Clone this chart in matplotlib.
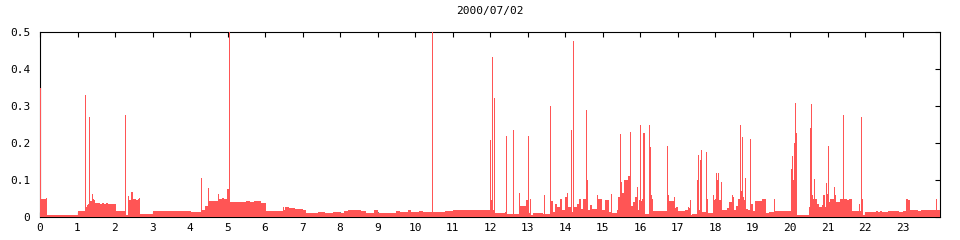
import matplotlib
matplotlib.use("Agg")
import matplotlib.pyplot as plt
import numpy as np

title = "2000/07/02"
x_ticks = list(range(24))
y_ticks = [0, 0.1, 0.2, 0.3, 0.4, 0.5]
y_tick_labels = ["0", "0.1", "0.2", "0.3", "0.4", "0.5"]

# baseline level: value holds from each hour mark until the next
base_hours = [
    0.00, 0.17, 0.18, 1.00, 1.21, 1.25, 1.29, 1.33, 1.38, 1.42, 1.44, 1.46, 1.60, 1.65, 1.70, 1.75, 1.80,
    2.03, 2.28, 2.35, 2.38, 2.42, 2.47, 2.52, 2.55, 2.60, 2.63, 2.67, 3.00, 4.03, 4.30, 4.33, 4.41, 4.47,
    4.50, 4.74, 4.77, 4.85, 4.90, 4.95, 4.98, 5.05, 5.50, 5.60, 5.70, 5.90, 6.03, 6.47, 6.50, 6.53, 6.65,
    6.80, 7.00, 7.10, 7.40, 7.60, 7.80, 8.00, 8.10, 8.20, 8.30, 8.40, 8.55, 8.70, 8.90, 9.00, 9.30, 9.50,
    9.60, 9.80, 9.90, 10.10, 10.20, 10.47, 10.80, 11.02, 12.02, 12.06, 12.13, 12.40, 12.45, 12.77, 12.80,
    12.97, 13.03, 13.07, 13.09, 13.15, 13.30, 13.40, 13.45, 13.47, 13.62, 13.67, 13.73, 13.78, 13.87,
    13.91, 14.00, 14.04, 14.09, 14.18, 14.23, 14.31, 14.36, 14.38, 14.43, 14.49, 14.58, 14.62, 14.67,
    14.71, 14.84, 14.89, 14.98, 15.07, 15.17, 15.22, 15.24, 15.38, 15.42, 15.49, 15.51, 15.56, 15.69,
    15.75, 15.82, 15.87, 15.91, 15.95, 15.98, 16.02, 16.05, 16.07, 16.13, 16.26, 16.29, 16.31, 16.34,
    16.73, 16.76, 16.90, 16.93, 16.96, 17.00, 17.20, 17.27, 17.30, 17.33, 17.36, 17.38, 17.52, 17.54,
    17.57, 17.59, 17.62, 17.65, 17.78, 17.80, 17.94, 17.97, 18.00, 18.03, 18.06, 18.08, 18.11, 18.17,
    18.19, 18.33, 18.37, 18.45, 18.48, 18.51, 18.56, 18.62, 18.69, 18.73, 18.76, 18.80, 18.83, 18.89,
    18.95, 19.02, 19.07, 19.25, 19.35, 19.37, 19.45, 19.58, 19.60, 20.02, 20.05, 20.07, 20.10, 20.15,
    20.18, 20.50, 20.53, 20.56, 20.59, 20.62, 20.65, 20.67, 20.71, 20.76, 20.85, 20.89, 20.92, 20.95,
    20.98, 21.00, 21.03, 21.06, 21.16, 21.19, 21.22, 21.33, 21.43, 21.45, 21.51, 21.56, 21.60, 21.64,
    21.84, 21.87, 21.92, 21.95, 22.00, 22.30, 22.35, 22.40, 22.45, 22.60, 22.90, 23.00, 23.10, 23.15,
    23.20, 23.40, 23.50, 23.75, 23.77, 23.90, 23.93, 24.00,
]
base_values = [
    0.050, 0.052, 0.006, 0.015, 0.028, 0.032, 0.035, 0.042, 0.063, 0.050, 0.045, 0.038, 0.036, 0.038, 0.036, 0.038, 0.036,
    0.017, 0.006, 0.057, 0.047, 0.068, 0.048, 0.050, 0.047, 0.050, 0.052, 0.008, 0.016, 0.0135, 0.050, 0.020, 0.030, 0.035,
    0.043, 0.063, 0.050, 0.052, 0.048, 0.050, 0.075, 0.040, 0.042, 0.040, 0.042, 0.037, 0.016, 0.028, 0.020, 0.026, 0.024,
    0.022, 0.018, 0.012, 0.013, 0.012, 0.013, 0.012, 0.015, 0.018, 0.020, 0.019, 0.015, 0.012, 0.018, 0.011, 0.012, 0.016,
    0.013, 0.018, 0.014, 0.016, 0.013, 0.014, 0.016, 0.020, 0.045, 0.020, 0.012, 0.013, 0.008, 0.065, 0.030,
    0.045, 0.012, 0.050, 0.006, 0.010, 0.012, 0.008, 0.060, 0.008, 0.044, 0.013, 0.035, 0.027, 0.050,
    0.018, 0.055, 0.065, 0.027, 0.013, 0.026, 0.035, 0.018, 0.050, 0.022, 0.050, 0.100, 0.018, 0.032,
    0.022, 0.060, 0.050, 0.018, 0.045, 0.013, 0.063, 0.010, 0.018, 0.055, 0.095, 0.065, 0.100, 0.110,
    0.030, 0.040, 0.055, 0.080, 0.018, 0.045, 0.042, 0.050, 0.226, 0.008, 0.190, 0.060, 0.050, 0.016,
    0.060, 0.042, 0.055, 0.025, 0.028, 0.016, 0.020, 0.028, 0.025, 0.045, 0.005, 0.008, 0.100, 0.168,
    0.020, 0.154, 0.180, 0.013, 0.050, 0.012, 0.060, 0.045, 0.048, 0.120, 0.100, 0.118, 0.045, 0.095,
    0.018, 0.025, 0.040, 0.060, 0.055, 0.018, 0.030, 0.050, 0.070, 0.055, 0.045, 0.105, 0.022, 0.018,
    0.035, 0.016, 0.042, 0.048, 0.050, 0.010, 0.013, 0.048, 0.016, 0.130, 0.165, 0.100, 0.200, 0.227,
    0.005, 0.027, 0.240, 0.305, 0.060, 0.050, 0.103, 0.050, 0.035, 0.028, 0.033, 0.060, 0.028, 0.092,
    0.063, 0.192, 0.040, 0.050, 0.080, 0.060, 0.040, 0.050, 0.225, 0.050, 0.045, 0.050, 0.048, 0.016,
    0.035, 0.016, 0.050, 0.005, 0.013, 0.015, 0.013, 0.015, 0.013, 0.016, 0.014, 0.016, 0.050, 0.045,
    0.018, 0.016, 0.018, 0.048, 0.018, 0.048, 0.018, 0.018,
]

# narrow one-sample peaks
spike_hours = [0.0, 1.20, 1.31, 2.27, 4.29, 4.49, 5.03, 10.46, 12.00, 12.05, 12.10, 12.43, 12.60,
               13.00, 13.60, 14.16, 14.21, 14.56, 15.47, 15.73, 16.00, 16.24, 16.71, 17.76, 18.67,
               18.71, 18.93, 20.13, 21.40, 21.90]
spike_values = [0.35, 0.33, 0.27, 0.275, 0.105, 0.078, 0.5, 0.5, 0.208, 0.433, 0.322, 0.22, 0.235,
                0.22, 0.30, 0.235, 0.475, 0.29, 0.225, 0.23, 0.25, 0.25, 0.192, 0.177, 0.25,
                0.215, 0.21, 0.307, 0.276, 0.27]

red = "#ff5555"
fig = plt.figure(figsize=(9.6, 2.4), dpi=100)
ax = fig.add_axes([40 / 960, 23 / 240, 900 / 960, 185 / 240])

ax.fill_between(base_hours, 0, base_values, step="post", color=red, linewidth=0,
                antialiased=False, zorder=3)
ax.bar(spike_hours, spike_values, width=1 / 37.5, align="edge", color=red, linewidth=0,
       antialiased=False, zorder=3)

ax.set_xlim(0, 24)
ax.set_ylim(0, 0.5)
ax.set_xticks(x_ticks)
ax.set_xticklabels([str(t) for t in x_ticks])
ax.set_yticks(y_ticks)
ax.set_yticklabels(y_tick_labels)

font = dict(family="DejaVu Sans Mono", size=8)
for lab in ax.get_xticklabels() + ax.get_yticklabels():
    lab.set_fontfamily("DejaVu Sans Mono")
    lab.set_fontsize(8)

ax.tick_params(axis="x", direction="in", length=3.7, width=0.8, top=True, bottom=True, pad=4)
ax.tick_params(axis="y", direction="in", length=3.7, width=0.8, left=False, right=True, pad=7)
for s in ax.spines.values():
    s.set_linewidth(0.8)
    s.set_color("black")

ax.set_title(title, fontdict=font, pad=13)
fig.savefig("out.png", dpi=100)
